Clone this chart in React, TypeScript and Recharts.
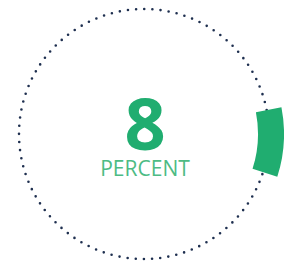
import React from 'react';
import { PieChart, Pie, Cell } from 'recharts';

const percentValue = [8];
const totalValue = [100];
const centerLabel = ['PERCENT'];

const GREEN = '#20ad70';
const NAVY = '#1e2f4f';

const data = [
  { name: 'done', value: percentValue[0] },
  { name: 'rest', value: totalValue[0] - percentValue[0] },
];

const CX = 144;
const CY = 134;
const RING_R = 125;
const DOT_GAP = (2 * Math.PI * RING_R) / 96;

const App: React.FC = () => {
  return (
    <div style={{ position: 'absolute', left: 0, top: 0, width: 284, height: 262 }}>
      <PieChart width={284} height={262} margin={{ top: 0, right: 0, bottom: 0, left: 0 }}>
        <circle
          cx={CX}
          cy={CY}
          r={RING_R}
          fill="none"
          stroke={NAVY}
          strokeWidth={2.6}
          strokeLinecap="round"
          strokeDasharray={`0 ${DOT_GAP}`}
        />
        <Pie
          data={data}
          dataKey="value"
          cx={CX}
          cy={CY}
          innerRadius={114}
          outerRadius={140}
          startAngle={11}
          endAngle={-349}
          stroke="none"
          isAnimationActive={false}
        >
          {data.map((entry, idx) => (
            <Cell key={idx} fill={idx === 0 ? GREEN : 'transparent'} />
          ))}
        </Pie>
        <text
          x={CX + 1}
          y={150}
          textAnchor="middle"
          fill={GREEN}
          style={{ fontFamily: "'Open Sans', sans-serif", fontWeight: 700, fontSize: 72 }}
        >
          {percentValue[0]}
        </text>
        <text
          x={CX + 1}
          y={176}
          textAnchor="middle"
          fill="#4dbb84"
          style={{ fontFamily: "'Open Sans', sans-serif", fontWeight: 400, fontSize: 21 }}
        >
          {centerLabel[0]}
        </text>
      </PieChart>
    </div>
  );
};

export default App;
